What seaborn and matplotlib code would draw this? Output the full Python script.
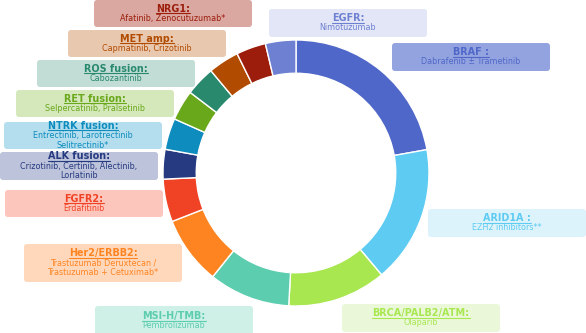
import matplotlib
matplotlib.use('Agg')
import matplotlib.pyplot as plt
import seaborn as sns
from matplotlib.patches import FancyBboxPatch

# Alterações genómicas e terapias alvo (ordem horária a partir do topo)
genes = ["BRAF", "ARID1A", "BRCA/PALB2/ATM", "MSI-H/TMB", "Her2/ERBB2", "FGFR2",
         "ALK fusion", "NTRK fusion", "RET fusion", "ROS fusion", "MET amp", "NRG1", "EGFR"]
titulos = ["BRAF :", "ARID1A :", "BRCA/PALB2/ATM:", "MSI-H/TMB:", "Her2/ERBB2:", "FGFR2:",
           "ALK fusion:", "NTRK fusion:", "RET fusion:", "ROS fusion:", "MET amp:", "NRG1:", "EGFR:"]
percentual = [22.2, 16.7, 12.0, 9.9, 8.3, 5.2, 3.6, 3.8, 3.7, 3.6, 3.75, 3.6, 3.7]
farmacos = ["Dabrafenib ± Trametinib",
            "EZH2 inhibitors**",
            "Olaparib",
            "Pembrolizumab",
            "Trastuzumab Deruxtecan /\nTrastuzumab + Cetuximab*",
            "Erdafitinib",
            "Crizotinib, Certinib, Alectinib,\nLorlatinib",
            "Entrectinib, Larotrectinib\nSelitrectinib*",
            "Selpercatinib, Pralsetinib",
            "Cabozantinib",
            "Capmatinib, Crizotinib",
            "Afatinib, Zenocutuzumab*",
            "Nimotuzumab"]

cores = ["#4f67c8", "#5ecbf2", "#a9e751", "#5ccdae", "#fe8421", "#f04325",
         "#253a80", "#0e8cbe", "#69a81a", "#28896d", "#b14b00", "#9c1d0b", "#6d80d2"]
cores_caixa = ["#93a3df", "#dcf3fb", "#eaf8d9", "#cef0e7", "#ffd8bc", "#fdc6bc",
               "#bdc3da", "#b4deee", "#d4e8bb", "#c1ddd5", "#e9c8b0", "#daa8a1", "#e3e6f6"]

# posição das caixas (px: esquerda, topo, altura)
caixas = [(392, 43, 28), (428, 209, 28), (342, 304, 28), (95, 306, 30), (24, 244, 38), (5, 190, 27),
          (0, 152, 28), (4, 122, 27), (16, 90, 27), (37, 60, 27), (68, 30, 27), (94, 0, 27), (269, 9, 28)]

sns.set_style('white')
plt.rcParams['font.family'] = ['DejaVu Sans']

W, H = 586, 333
fig = plt.figure(figsize=(W / 100, H / 100), dpi=100)

# Gráfico de rosca
cx, cy, R = 296, 173, 133
ax = fig.add_axes([(cx - R) / W, (H - cy - R) / H, 2 * R / W, 2 * R / H])
ax.pie(percentual, colors=cores, startangle=90, counterclock=False,
       wedgeprops=dict(width=0.25, edgecolor='white', linewidth=1.0))
ax.set_xlim(-1, 1)
ax.set_ylim(-1, 1)
ax.set_aspect('equal')
ax.axis('off')

# Caixas com os textos
ov = fig.add_axes([0, 0, 1, 1])
ov.set_xlim(0, W)
ov.set_ylim(H, 0)
ov.axis('off')

fs = 5.8
fs_tit = 6.9
passo = 9.7
titulos_txt = []
for i in range(len(genes)):
    x0, y0, h = caixas[i]
    largura = 158
    ov.add_patch(FancyBboxPatch((x0, y0), largura, h,
                                boxstyle='round,pad=0,rounding_size=3',
                                facecolor=cores_caixa[i], edgecolor='none'))
    linhas = farmacos[i].split('\n')
    n = len(linhas) + 1
    ytop = y0 + h / 2 - (n - 1) * passo / 2
    xc = x0 + largura / 2
    t = ov.text(xc, ytop, titulos[i], ha='center', va='center', fontsize=fs_tit,
                fontweight='bold', color=cores[i])
    titulos_txt.append((t, xc, ytop, cores[i]))
    for j, linha in enumerate(linhas):
        ov.text(xc, ytop + (j + 1) * passo, linha, ha='center', va='center',
                fontsize=fs, color=cores[i])

# Sublinhar os títulos (largura medida, altura fixa logo abaixo do texto)
fig.canvas.draw()
rend = fig.canvas.get_renderer()
for t, xc, yt, c in titulos_txt:
    larg = t.get_window_extent(rend).width
    ov.plot([xc - larg / 2, xc + larg / 2], [yt + 4.4, yt + 4.4], color=c, linewidth=0.8)

fig.savefig('out.png', dpi=100)
